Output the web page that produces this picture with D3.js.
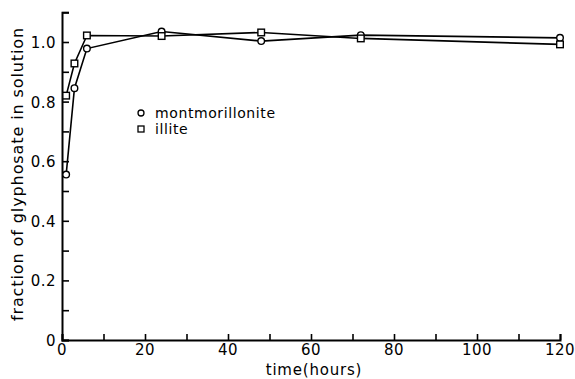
<!DOCTYPE html>
<html><head><meta charset="utf-8">
<script src="https://cdn.jsdelivr.net/npm/d3@7"></script>
<style>body{margin:0;background:#fff}svg{display:block}text{font-family:"DejaVu Sans",sans-serif;fill:#000}</style>
</head><body>
<svg id="c" width="575" height="379"></svg>
<script>
const times = [1, 3, 6, 24, 48, 72, 120];
const montmorillonite = [0.555, 0.845, 0.978, 1.035, 1.003, 1.023, 1.014];
const illite = [0.82, 0.928, 1.022, 1.02, 1.032, 1.012, 0.992];
const xTicks = [0, 10, 20, 30, 40, 50, 60, 70, 80, 90, 100, 110, 120];
const xLabels = [0, 20, 40, 60, 80, 100, 120];
const yTicks = [0, 0.1, 0.2, 0.3, 0.4, 0.5, 0.6, 0.7, 0.8, 0.9, 1.0, 1.1];
const yLabels = ["0", "0.2", "0.4", "0.6", "0.8", "1.0"];
const seriesNames = ["montmorillonite", "illite"];

const svg = d3.select("#c");
const x = d3.scaleLinear().domain([0, 120]).range([62, 560]);
const y = d3.scaleLinear().domain([0, 1.1]).range([340, 12.2]);
const g = svg.append("g");

const xAxis = d3.axisBottom(x).tickValues(xTicks).tickSize(-6).tickFormat("");
const yAxis = d3.axisLeft(y).tickValues(yTicks).tickSize(-7).tickFormat("");
const gx = g.append("g").attr("transform", `translate(0,${y(0)})`).call(xAxis);
const gy = g.append("g").attr("transform", `translate(${x(0)},0)`).call(yAxis);
[gx, gy].forEach(a => {
  a.select(".domain").attr("stroke", "#000").attr("stroke-width", 2);
  a.selectAll(".tick line").attr("stroke", "#000").attr("stroke-width", 1.6);
});

g.selectAll(".xl").data(xLabels).enter().append("text")
  .attr("x", d => x(d)).attr("y", y(0) + 15)
  .attr("text-anchor", "middle").attr("font-size", 15).attr("letter-spacing", 0.5).text(d => d);
g.selectAll(".yl").data(yLabels).enter().append("text")
  .attr("x", x(0) - 6).attr("y", d => y(+d) + 6)
  .attr("text-anchor", "end").attr("font-size", 15).attr("letter-spacing", 0.5).text(d => d);

g.append("text").attr("x", 314).attr("y", 375).attr("text-anchor", "middle")
  .attr("font-size", 15).attr("letter-spacing", 0.8).text("time(hours)");
g.append("text").attr("transform", "translate(23,174) rotate(-90)")
  .attr("text-anchor", "middle").attr("font-size", 16).attr("letter-spacing", 0.9)
  .text("fraction of glyphosate in solution");

const line = d3.line().x((d, i) => x(times[i])).y(d => y(d));
[montmorillonite, illite].forEach(s => {
  g.append("path").datum(s).attr("d", line).attr("fill", "none")
    .attr("stroke", "#000").attr("stroke-width", 1.6);
});

g.selectAll(".mc").data(montmorillonite).enter().append("circle")
  .attr("cx", (d, i) => x(times[i])).attr("cy", d => y(d)).attr("r", 3.3)
  .attr("fill", "#fff").attr("stroke", "#000").attr("stroke-width", 1.4);
g.selectAll(".ms").data(illite).enter().append("rect")
  .attr("x", (d, i) => x(times[i]) - 3.3).attr("y", d => y(d) - 3.3)
  .attr("width", 6.6).attr("height", 6.6)
  .attr("fill", "#fff").attr("stroke", "#000").attr("stroke-width", 1.4);

const lg = g.append("g");
lg.append("circle").attr("cx", 141).attr("cy", 113).attr("r", 3)
  .attr("fill", "#fff").attr("stroke", "#000").attr("stroke-width", 1.3);
lg.append("rect").attr("x", 138).attr("y", 126).attr("width", 6).attr("height", 6)
  .attr("fill", "#fff").attr("stroke", "#000").attr("stroke-width", 1.3);
lg.append("text").attr("x", 155).attr("y", 118).attr("font-size", 14).attr("letter-spacing", 0.6).text(seriesNames[0]);
lg.append("text").attr("x", 155).attr("y", 134).attr("font-size", 14).attr("letter-spacing", 0.6).text(seriesNames[1]);
</script>
</body></html>
